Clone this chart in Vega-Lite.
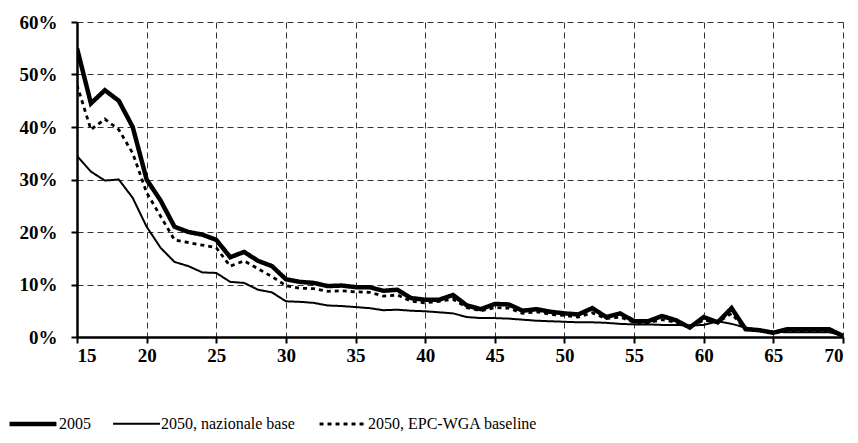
{
  "$schema": "https://vega.github.io/schema/vega-lite/v6.json",
  "width": 766,
  "height": 315,
  "autosize": {"type": "none"},
  "padding": {"left": 77, "top": 22, "right": 15, "bottom": 106},
  "background": "white",
  "config": {
    "view": {"stroke": null},
    "font": "Liberation Serif"
  },
  "data": {
    "values": [
      {"age": 15, "a": 55.0, "b": 34.5, "c": 48.0},
      {"age": 16, "a": 44.5, "b": 31.5, "c": 39.5},
      {"age": 17, "a": 47.0, "b": 29.8, "c": 41.5},
      {"age": 18, "a": 45.0, "b": 30.0, "c": 39.5},
      {"age": 19, "a": 40.0, "b": 26.5, "c": 35.0},
      {"age": 20, "a": 30.0, "b": 21.0, "c": 27.5},
      {"age": 21, "a": 26.0, "b": 17.0, "c": 23.0},
      {"age": 22, "a": 21.0, "b": 14.3, "c": 18.5},
      {"age": 23, "a": 20.0, "b": 13.5, "c": 18.0},
      {"age": 24, "a": 19.5, "b": 12.3, "c": 17.5},
      {"age": 25, "a": 18.5, "b": 12.2, "c": 17.0},
      {"age": 26, "a": 15.2, "b": 10.5, "c": 13.5},
      {"age": 27, "a": 16.2, "b": 10.3, "c": 14.5},
      {"age": 28, "a": 14.5, "b": 9.0, "c": 13.0},
      {"age": 29, "a": 13.5, "b": 8.5, "c": 11.5},
      {"age": 30, "a": 11.0, "b": 6.8, "c": 9.8},
      {"age": 31, "a": 10.5, "b": 6.7, "c": 9.3},
      {"age": 32, "a": 10.3, "b": 6.5, "c": 9.2},
      {"age": 33, "a": 9.7, "b": 6.0, "c": 8.7},
      {"age": 34, "a": 9.8, "b": 5.9, "c": 8.8},
      {"age": 35, "a": 9.5, "b": 5.7, "c": 8.6},
      {"age": 36, "a": 9.5, "b": 5.5, "c": 8.5},
      {"age": 37, "a": 8.8, "b": 5.1, "c": 7.8},
      {"age": 38, "a": 9.0, "b": 5.2, "c": 8.0},
      {"age": 39, "a": 7.4, "b": 5.0, "c": 6.8},
      {"age": 40, "a": 7.1, "b": 4.9, "c": 6.5},
      {"age": 41, "a": 7.1, "b": 4.7, "c": 6.8},
      {"age": 42, "a": 8.0, "b": 4.5, "c": 7.2},
      {"age": 43, "a": 6.0, "b": 3.8, "c": 5.6},
      {"age": 44, "a": 5.3, "b": 3.6, "c": 5.0},
      {"age": 45, "a": 6.3, "b": 3.6, "c": 5.6},
      {"age": 46, "a": 6.2, "b": 3.5, "c": 5.5},
      {"age": 47, "a": 5.0, "b": 3.3, "c": 4.5},
      {"age": 48, "a": 5.3, "b": 3.1, "c": 4.8},
      {"age": 49, "a": 4.8, "b": 3.0, "c": 4.3},
      {"age": 50, "a": 4.5, "b": 2.9, "c": 4.1},
      {"age": 51, "a": 4.3, "b": 2.8, "c": 3.8},
      {"age": 52, "a": 5.5, "b": 2.8, "c": 4.6},
      {"age": 53, "a": 3.8, "b": 2.7, "c": 3.5},
      {"age": 54, "a": 4.5, "b": 2.5, "c": 3.8},
      {"age": 55, "a": 3.0, "b": 2.4, "c": 2.8},
      {"age": 56, "a": 3.0, "b": 2.4, "c": 2.7},
      {"age": 57, "a": 4.0, "b": 2.3, "c": 3.3},
      {"age": 58, "a": 3.2, "b": 2.3, "c": 2.8},
      {"age": 59, "a": 1.8, "b": 2.2, "c": 1.9},
      {"age": 60, "a": 3.8, "b": 2.3, "c": 3.2},
      {"age": 61, "a": 2.8, "b": 3.0, "c": 2.8},
      {"age": 62, "a": 5.5, "b": 2.5, "c": 4.5},
      {"age": 63, "a": 1.5, "b": 1.8, "c": 1.4},
      {"age": 64, "a": 1.3, "b": 1.3, "c": 1.2},
      {"age": 65, "a": 0.8, "b": 1.0, "c": 0.8},
      {"age": 66, "a": 1.5, "b": 0.9, "c": 1.2},
      {"age": 67, "a": 1.5, "b": 0.9, "c": 1.2},
      {"age": 68, "a": 1.5, "b": 0.9, "c": 1.2},
      {"age": 69, "a": 1.5, "b": 0.9, "c": 1.2},
      {"age": 70, "a": 0.2, "b": 0.3, "c": 0.2}
    ]
  },
  "transform": [
    {"fold": ["a", "b", "c"], "as": ["key", "value"]},
    {"lookup": "key", "from": {"data": {"values": [
      {"key": "a", "series": "2005", "ord": 3},
      {"key": "b", "series": "2050, nazionale base", "ord": 1},
      {"key": "c", "series": "2050, EPC-WGA baseline", "ord": 2}
    ]}, "key": "key", "fields": ["series", "ord"]}}
  ],
  "mark": {"type": "line", "stroke": "black", "strokeJoin": "miter", "clip": true},
  "encoding": {
    "x": {
      "field": "age", "type": "quantitative",
      "scale": {"domain": [15, 70], "nice": false, "zero": false},
      "axis": {
        "title": null, "values": [15, 20, 25, 30, 35, 40, 45, 50, 55, 60, 65, 70],
        "labelFont": "Liberation Serif", "labelFontSize": 19, "labelFontWeight": "bold", "labelColor": "black",
        "labelPadding": 3, "tickSize": 6, "tickColor": "black", "tickWidth": 2,
        "domainColor": "black", "domainWidth": 2.5,
        "grid": true, "gridColor": "#333", "gridDash": [6, 4], "gridWidth": 1
      }
    },
    "y": {
      "field": "value", "type": "quantitative",
      "scale": {"domain": [0, 60], "nice": false},
      "axis": {
        "title": null, "values": [0, 10, 20, 30, 40, 50, 60],
        "labelExpr": "datum.value + '%'",
        "labelFont": "Liberation Serif", "labelFontSize": 19, "labelFontWeight": "bold", "labelColor": "black",
        "labelPadding": 14, "tickSize": 6, "tickColor": "black", "tickWidth": 2,
        "domainColor": "black", "domainWidth": 2.5,
        "grid": true, "gridColor": "#333", "gridDash": [6, 4], "gridWidth": 1
      }
    },
    "detail": {"field": "series"},
    "order": {"field": "age", "type": "quantitative"},
    "strokeWidth": {
      "field": "series", "type": "nominal",
      "scale": {"type": "ordinal", "domain": ["2005", "2050, nazionale base", "2050, EPC-WGA baseline"], "range": [4.5, 2, 2.8]},
      "legend": {
        "title": null, "orient": "none", "legendX": -70, "legendY": 376, "direction": "horizontal",
        "symbolType": "stroke", "symbolSize": 2200, "symbolStrokeColor": "black",
        "labelFont": "Liberation Serif", "labelFontSize": 16, "labelColor": "black", "labelOffset": 0,
        "labelLimit": 400, "columnPadding": 18
      }
    },
    "strokeDash": {
      "field": "series", "type": "nominal",
      "scale": {"type": "ordinal", "domain": ["2005", "2050, nazionale base", "2050, EPC-WGA baseline"], "range": [[1, 0], [1, 0], [4, 4]]},
      "legend": {
        "title": null, "orient": "none", "legendX": -70, "legendY": 376, "direction": "horizontal",
        "symbolType": "stroke", "symbolSize": 2200, "symbolStrokeColor": "black",
        "labelFont": "Liberation Serif", "labelFontSize": 16, "labelColor": "black", "labelOffset": 0,
        "labelLimit": 400, "columnPadding": 18
      }
    }
  }
}
